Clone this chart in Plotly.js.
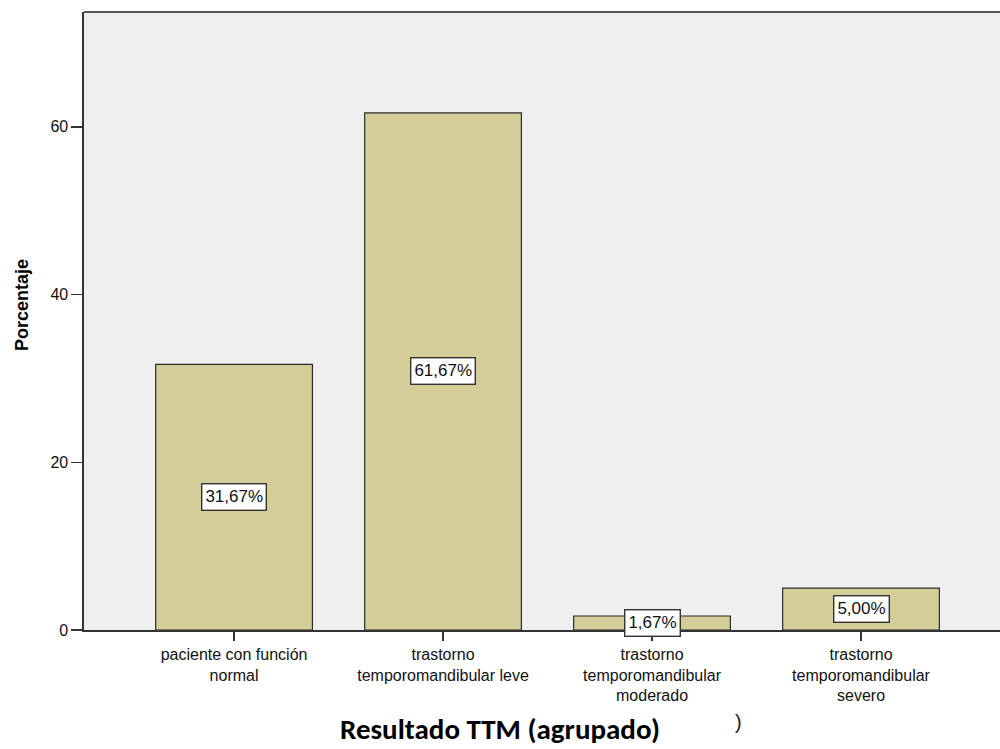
<!DOCTYPE html>
<html>
<head>
<meta charset="utf-8">
<script src="https://cdn.plot.ly/plotly-3.0.1.min.js"></script>
<style>html,body{margin:0;padding:0;background:#fff;}#chart{width:1000px;height:749px;}</style>
</head>
<body>
<div id="chart"></div>
<script>
const categories = ["paciente con función<br>normal", "trastorno<br>temporomandibular leve", "trastorno<br>temporomandibular<br>moderado", "trastorno<br>temporomandibular<br>severo"];
const values = [31.67, 61.67, 1.67, 5.00];
const labels = ["31,67%", "61,67%", "1,67%", "5,00%"];
const yTicks = [0, 20, 40, 60];

const idx = categories.map((c, i) => i);
const FONT = '"Liberation Sans", Arial, sans-serif';

const trace = {
  type: 'bar',
  x: idx,
  y: values,
  width: 0.75,
  marker: {color: '#d3ce97', line: {color: '#2b2b2b', width: 1.2}},
  hoverinfo: 'skip'
};

const annotations = values.map((v, i) => ({
  x: i, y: v / 2, xref: 'x', yref: 'y',
  text: labels[i], showarrow: false,
  font: {family: FONT, size: 17, color: '#111'},
  bgcolor: '#ffffff', bordercolor: '#333333', borderwidth: 1.4, borderpad: 3
}));

annotations.push({
  x: 0.5, y: 0, xref: 'paper', yref: 'paper', yanchor: 'middle', xanchor: 'center',
  yshift: -99, xshift: -42,
  text: '<b>Resultado TTM (agrupado)</b>', showarrow: false,
  font: {family: 'Carlito, Lato, sans-serif', size: 29, color: '#000'}
});
annotations.push({
  x: 0, y: 0.5, xref: 'paper', yref: 'paper', yanchor: 'middle', xanchor: 'center',
  xshift: -62, yshift: 16,
  text: '<b>Porcentaje</b>', showarrow: false, textangle: -90,
  font: {family: FONT, size: 18, color: '#000'}
});
annotations.push({
  x: 0, y: 0, xref: 'paper', yref: 'paper', yanchor: 'middle', xanchor: 'center',
  xshift: 654, yshift: -92,
  text: ')', showarrow: false,
  font: {family: FONT, size: 20, color: '#222'}
});

const layout = {
  width: 1000, height: 749,
  margin: {l: 84, r: 0, t: 12, b: 119},
  paper_bgcolor: '#ffffff',
  plot_bgcolor: '#efefef',
  showlegend: false,
  xaxis: {
    range: [-0.718, 3.665],
    tickmode: 'array', tickvals: idx, ticktext: categories,
    ticks: 'outside', ticklen: 9, tickwidth: 1.4, tickcolor: '#333',
    showline: true, linecolor: '#333', linewidth: 1.6,
    showgrid: false, zeroline: false,
    tickfont: {family: FONT, size: 16, color: '#111'}
  },
  yaxis: {
    range: [0, 73.7],
    tickmode: 'array', tickvals: yTicks,
    ticks: 'outside', ticklen: 11, tickwidth: 1.4, tickcolor: '#333',
    showline: true, linecolor: '#333', linewidth: 1.6,
    showgrid: false, zeroline: false,
    tickfont: {family: FONT, size: 16, color: '#111'}
  },
  shapes: [
    {type: 'line', xref: 'paper', yref: 'paper', x0: 0, x1: 1, y0: 1, y1: 1,
     line: {color: '#555', width: 2}}
  ],
  annotations: annotations
};

Plotly.newPlot('chart', [trace], layout, {displayModeBar: false, staticPlot: true});
</script>
</body>
</html>
